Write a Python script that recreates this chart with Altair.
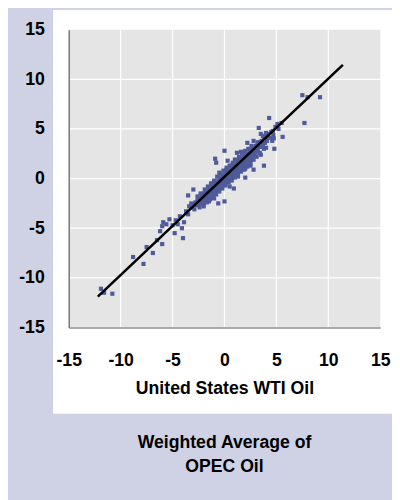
import altair as alt
import pandas as pd

# United States WTI Oil (x) vs Weighted Average of OPEC Oil (y)
wti = [
    -11.9, -11.6, -10.8, -8.8, -7.8, -7.5, -6.9, -6.5, -6.0, -6.2, -6.0, -5.9, -5.6, -5.3,
    -4.8, -4.0, -4.1, -4.5, -4.3, -5.0, -4.7, -3.9, -3.7, -3.5, -3.4, -3.5, -3.0, -3.2,
    7.5, 8.0, 9.2, 7.7, 4.3, 5.6, 3.3, 4.8, 3.8, 0.0, -0.9, -0.8, 0.3, 2.8, 4.6, 4.65,
    5.1, 5.5, 0.0, -0.6, 0.9, -1.5, 4.0, 3.7, 4.75, 3.2, 4.0, 2.2, 1.2, 2.6, 2.0, 1.6, 1.0,
    -3.2, -3.0, -2.9, -2.8, -2.7, -2.6, -2.5, -2.5, -2.4, -2.3, -2.2, -2.2, -2.1, -2.0,
    -2.0, -1.9, -1.8, -1.8, -1.7, -1.7, -1.6, -1.6, -1.5, -1.5, -1.4, -1.4, -1.3, -1.3,
    -1.2, -1.2, -1.1, -1.1, -1.0, -1.0, -0.9, -0.9, -0.8, -0.8, -0.7, -0.7, -0.6, -0.6,
    -0.5, -0.5, -0.4, -0.4, -0.3, -0.3, -0.2, -0.2, -0.1, -0.1, 0.0, 0.0, 0.1, 0.1,
    0.2, 0.2, 0.3, 0.3, 0.4, 0.4, 0.5, 0.5, 0.6, 0.6, 0.7, 0.7, 0.8, 0.8, 0.9, 0.9,
    1.0, 1.0, 1.1, 1.1, 1.2, 1.2, 1.3, 1.3, 1.4, 1.4, 1.5, 1.5, 1.6, 1.6, 1.7, 1.7,
    1.8, 1.8, 1.9, 1.9, 2.0, 2.0, 2.1, 2.1, 2.2, 2.2, 2.3, 2.3, 2.4, 2.4, 2.5, 2.5,
    2.6, 2.6, 2.7, 2.8, 2.8, 2.9, 3.0, 3.0, 3.1, 3.2, 3.2, 3.3, 3.4, 3.5, 3.6, 3.7,
    3.8, 3.9, 4.0, 4.1, 4.2, 4.4, 4.5, 4.7, 4.9, 5.2,
    1.3, 2.0, 2.5, 3.5, -2.0, -1.0, 0.5, -0.5, 2.8, 3.5, -0.3, 0.6, 1.4, -1.2, 0.2, 1.8,
    -2.6, -2.3, -1.9, -1.6, -1.3, -1.0, -0.7, -0.4, -0.1, 0.2, 0.5, 0.8, 1.1, 1.4, 1.7,
    2.0, 2.3, 2.6, -2.0, -1.7, -1.4, -1.1, -0.8, -0.5, -0.2, 0.1, 0.4, 0.7, 1.0, 1.3,
    1.6, 1.9, 2.2, 2.5, 2.8, 3.1, 3.4, 3.8, -0.35, 0.15, 0.65, 1.15, 1.65, 2.15, -0.85,
    -1.35, 0.45, 0.95, 1.45, 1.95,
]
opec = [
    -11.1, -11.5, -11.6, -7.9, -8.6, -6.9, -7.5, -6.2, -6.6, -5.3, -4.8, -4.4, -4.6, -4.1,
    -5.5, -6.0, -5.0, -4.6, -3.8, -4.7, -4.2, -4.4, -3.3, -3.6, -2.8, -1.7, -1.1, -2.5,
    8.4, 8.2, 8.2, 5.6, 6.1, 4.2, 5.1, 3.0, 1.3, 2.8, 2.0, 1.6, 1.8, 0.9, 3.8, 4.8,
    5.5, 5.6, -2.3, -2.5, -1.0, -2.3, 4.6, 4.3, 4.05, 3.65, 3.1, 3.6, 2.6, 1.9, 0.1, 2.7, 1.9,
    -2.9, -2.6, -3.1, -2.4, -2.7, -2.2, -2.6, -2.0, -2.9, -2.3, -1.8, -2.5, -2.0, -1.5,
    -2.2, -1.8, -1.3, -2.0, -1.6, -2.3, -1.2, -1.7, -1.4, -1.9, -1.0, -1.5, -1.2, -1.8,
    -0.8, -1.3, -1.0, -1.6, -0.6, -1.1, -0.8, -1.4, -0.4, -0.9, -0.6, -1.2, -0.2, -0.7,
    -0.5, -1.0, 0.0, -0.4, -0.2, -0.8, 0.2, -0.3, 0.0, -0.6, 0.4, -0.1, 0.2, -0.4,
    0.6, 0.0, 0.4, -0.2, 0.8, 0.2, 0.5, 0.0, 1.0, 0.4, 0.7, 0.1, 1.2, 0.6, 0.9, 0.3,
    1.4, 0.8, 1.1, 0.5, 1.5, 0.9, 1.2, 0.6, 1.8, 1.1, 1.4, 0.8, 1.9, 1.3, 1.6, 1.0,
    2.1, 1.5, 1.8, 1.2, 2.3, 1.7, 2.0, 1.4, 2.5, 1.9, 2.2, 1.5, 2.7, 2.0, 2.4, 1.8,
    2.9, 2.2, 2.6, 3.1, 2.3, 2.7, 3.3, 2.6, 3.0, 3.5, 2.8, 3.2, 3.7, 3.2, 3.8, 3.4,
    4.1, 3.6, 4.2, 3.8, 4.5, 4.1, 4.7, 4.4, 5.2, 5.0,
    0.2, 1.0, 1.3, 2.4, -2.8, -2.0, -0.8, 0.6, 3.8, 4.5, 0.3, 1.3, 2.1, -0.5, 0.9, 2.6,
    -1.8, -1.5, -1.1, -0.8, -0.5, -0.2, 0.2, 0.5, 0.8, 1.1, 1.3, 1.6, 1.9, 2.2, 2.5,
    2.8, 3.0, 3.3, -2.6, -2.4, -2.1, -1.9, -1.6, -1.3, -1.0, -0.7, -0.4, -0.2, 0.1, 0.4,
    0.7, 0.9, 1.2, 1.5, 1.9, 2.2, 2.6, 3.0, 0.1, 0.45, 0.9, 1.35, 1.75, 2.3, -0.5,
    -0.9, 0.05, 0.55, 1.0, 1.5,
]
fit_x = [-12.2, 11.4]
fit_y = [-11.9, 11.45]
tick_values = [-15, -10, -5, 0, 5, 10, 15]
grid_values = [-10, -5, 0, 5, 10]
frame = [-15, 15]

FONT = "Liberation Sans"
FS = 18
W, H = 318, 304

pts = pd.DataFrame({"wti": wti, "opec": opec})
fit = pd.DataFrame({"wti": fit_x, "opec": fit_y})
gdf = pd.DataFrame({"v": grid_values})
fdf = pd.DataFrame({"x": [frame[0]], "x2": [frame[1]], "y": [frame[0]], "y2": [frame[1]]})

xs = alt.Scale(domain=frame, nice=False, zero=False)
ys = alt.Scale(domain=frame, nice=False, zero=False)

common = dict(
    values=tick_values, grid=False, ticks=False, zindex=1,
    labelExpr="'' + datum.value", labelFont=FONT, labelFontSize=FS,
    labelFontWeight="bold", labelColor="black", labelFlush=False,
    labelOverlap=False,
)
ax_x = alt.Axis(title="United States WTI Oil", labelPadding=25, titlePadding=10,
                titleFont=FONT, titleFontSize=FS, titleFontWeight="bold",
                titleColor="black", domainColor="#aaaaaa", domainWidth=2, **common)
ax_y = alt.Axis(title=None, labelPadding=25, domainColor="#7a7a7a",
                domainWidth=1.5, **common)

white = alt.Chart(fdf).mark_rect(color="white").encode(
    x=alt.value(-16), x2=alt.value(W + 20), y=alt.value(-20), y2=alt.value(392)
)
grey = alt.Chart(fdf).mark_rect(color="#e5e5e5").encode(
    x=alt.X("x:Q", scale=xs, axis=ax_x), x2="x2",
    y=alt.Y("y:Q", scale=ys, axis=ax_y), y2="y2",
)
vgrid = alt.Chart(gdf).mark_rule(color="white", strokeWidth=1.2).encode(
    x=alt.X("v:Q", scale=xs, axis=ax_x), y=alt.value(0), y2=alt.value(H)
)
hgrid = alt.Chart(gdf).mark_rule(color="white", strokeWidth=1.2).encode(
    y=alt.Y("v:Q", scale=ys, axis=ax_y), x=alt.value(0), x2=alt.value(W)
)
points = alt.Chart(pts).mark_square(size=18, color="#4e5a99", opacity=1).encode(
    x=alt.X("wti:Q", scale=xs, axis=ax_x),
    y=alt.Y("opec:Q", scale=ys, axis=ax_y),
)
line = alt.Chart(fit).mark_line(color="black", strokeWidth=2.6).encode(
    x=alt.X("wti:Q", scale=xs, axis=ax_x),
    y=alt.Y("opec:Q", scale=ys, axis=ax_y),
)

chart = alt.layer(white, grey, vgrid, hgrid, points, line).properties(
    width=W, height=H,
    autosize=alt.AutoSizeParams(type="none"),
    padding={"left": 62, "top": 17, "right": 12, "bottom": 171},
    title=alt.TitleParams(
        text=["Weighted Average of", "OPEC Oil"], orient="bottom", anchor="middle",
        font=FONT, fontSize=FS, fontWeight="bold", color="black",
        lineHeight=25, offset=21,
    ),
).configure(background="#cfd2e4").configure_view(strokeWidth=0)

chart.save("out.html", embed_options={"renderer": "svg", "actions": False})
